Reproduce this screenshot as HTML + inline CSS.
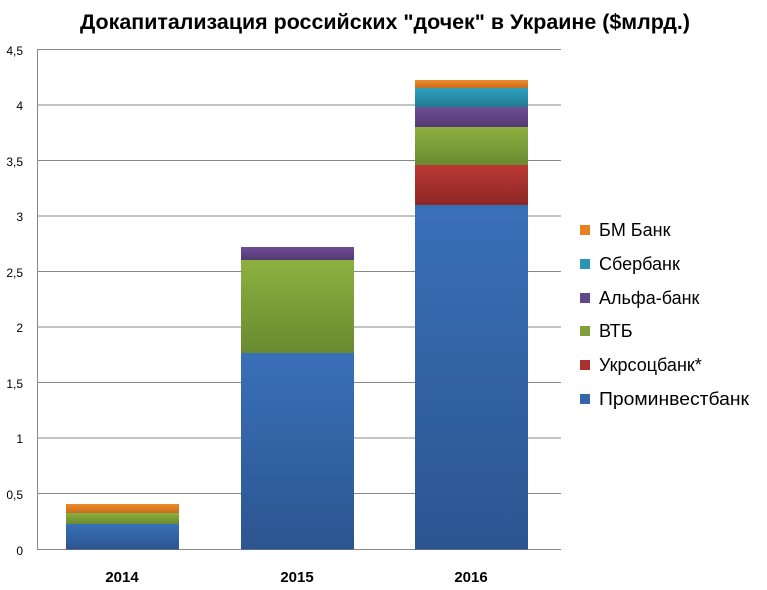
<!DOCTYPE html>
<html><head><meta charset="utf-8"><style>
body{margin:0;background:#fff;}
svg{display:block;font-family:"Liberation Sans","DejaVu Sans",sans-serif;}
</style></head><body>
<svg width="767" height="590" viewBox="0 0 767 590" xmlns="http://www.w3.org/2000/svg">
<defs>
<linearGradient id="b" x1="0" y1="0" x2="0" y2="1"><stop offset="0" stop-color="#3870b8"/><stop offset="1" stop-color="#2c5590"/></linearGradient>
<linearGradient id="r" x1="0" y1="0" x2="0" y2="1"><stop offset="0" stop-color="#bb3835"/><stop offset="1" stop-color="#8c2826"/></linearGradient>
<linearGradient id="g" x1="0" y1="0" x2="0" y2="1"><stop offset="0" stop-color="#8db040"/><stop offset="1" stop-color="#6a8a30"/></linearGradient>
<linearGradient id="p" x1="0" y1="0" x2="0" y2="1"><stop offset="0" stop-color="#6d4f96"/><stop offset="1" stop-color="#523a72"/></linearGradient>
<linearGradient id="t" x1="0" y1="0" x2="0" y2="1"><stop offset="0" stop-color="#2fa1c0"/><stop offset="1" stop-color="#217a92"/></linearGradient>
<linearGradient id="o" x1="0" y1="0" x2="0" y2="1"><stop offset="0" stop-color="#f08a28"/><stop offset="1" stop-color="#c86c1e"/></linearGradient>
</defs>
<text x="385" y="29" text-anchor="middle" font-size="21.5" font-weight="bold" fill="#000" textLength="610" lengthAdjust="spacingAndGlyphs">Докапитализация российских "дочек" в Украине ($млрд.)</text>
<g stroke="#888" stroke-width="1">
<line x1="37" y1="49.5" x2="561" y2="49.5"/>
<line x1="37" y1="105" x2="561" y2="105"/>
<line x1="37" y1="160.5" x2="561" y2="160.5"/>
<line x1="37" y1="216" x2="561" y2="216"/>
<line x1="37" y1="271.5" x2="561" y2="271.5"/>
<line x1="37" y1="327" x2="561" y2="327"/>
<line x1="37" y1="382.5" x2="561" y2="382.5"/>
<line x1="37" y1="438" x2="561" y2="438"/>
<line x1="37" y1="493.5" x2="561" y2="493.5"/>
<line x1="37" y1="549.5" x2="561" y2="549.5"/>
<line x1="37.5" y1="49" x2="37.5" y2="550"/>
</g>
<g font-size="12" fill="#000" text-anchor="end">
<text x="23" y="55">4,5</text><text x="23" y="110">4</text><text x="23" y="166">3,5</text><text x="23" y="221">3</text><text x="23" y="277">2,5</text><text x="23" y="332">2</text><text x="23" y="388">1,5</text><text x="23" y="443">1</text><text x="23" y="499">0,5</text><text x="23" y="555">0</text>
</g>
<rect x="66" y="524" width="113" height="25.5" fill="url(#b)"/>
<rect x="66" y="513" width="113" height="11" fill="url(#g)"/>
<rect x="66" y="504" width="113" height="9" fill="url(#o)"/>
<rect x="241" y="353" width="113" height="196.5" fill="url(#b)"/>
<rect x="241" y="260" width="113" height="93" fill="url(#g)"/>
<rect x="241" y="247" width="113" height="13" fill="url(#p)"/>
<rect x="415" y="205" width="113" height="344.5" fill="url(#b)"/>
<rect x="415" y="165" width="113" height="40" fill="url(#r)"/>
<rect x="415" y="127" width="113" height="38" fill="url(#g)"/>
<rect x="415" y="107" width="113" height="20" fill="url(#p)"/>
<rect x="415" y="88" width="113" height="19" fill="url(#t)"/>
<rect x="415" y="80" width="113" height="8" fill="url(#o)"/>
<g font-size="15" font-weight="bold" fill="#000" text-anchor="middle">
<text x="122" y="582">2014</text><text x="297" y="582">2015</text><text x="471" y="582">2016</text>
</g>
<g font-size="18" fill="#000">
<rect x="580" y="225" width="10" height="10" fill="#e8801f"/><text x="599" y="236">БМ Банк</text>
<rect x="580" y="259" width="10" height="10" fill="#2a94b2"/><text x="599" y="270">Сбербанк</text>
<rect x="580" y="293" width="10" height="10" fill="#62478a"/><text x="599" y="304">Альфа-банк</text>
<rect x="580" y="326" width="10" height="10" fill="#7fa03a"/><text x="599" y="337">ВТБ</text>
<rect x="580" y="360" width="10" height="10" fill="#a83230"/><text x="599" y="371">Укрсоцбанк*</text>
<rect x="580" y="394" width="10" height="10" fill="#3366aa"/><text x="599" y="405" textLength="150" lengthAdjust="spacingAndGlyphs">Проминвестбанк</text>
</g>
</svg>
</body></html>
